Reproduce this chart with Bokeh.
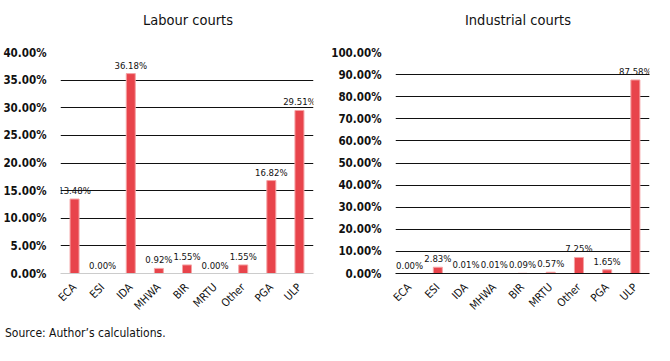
from math import pi
from bokeh.plotting import figure
from bokeh.models import ColumnDataSource, NumeralTickFormatter, FixedTicker, Div, LabelSet
from bokeh.core.properties import value
from bokeh.layouts import row, column
from bokeh.embed import file_html
from bokeh.resources import INLINE

categories = ["ECA", "ESI", "IDA", "MHWA", "BIR", "MRTU", "Other", "PGA", "ULP"]
labour_pct = [13.48, 0.00, 36.18, 0.92, 1.55, 0.00, 1.55, 16.82, 29.51]
industrial_pct = [0.00, 2.83, 0.01, 0.01, 0.09, 0.57, 7.25, 1.65, 87.58]
labour_ticks = [0, 5, 10, 15, 20, 25, 30, 35, 40]
industrial_ticks = [0, 10, 20, 30, 40, 50, 60, 70, 80, 90, 100]

FONT = "DejaVu Sans Condensed"
BAR = "#E8444B"


def make(vals, ticks, width, bl, br, axis_col):
    src = ColumnDataSource(dict(
        cat=categories,
        y=[v / 100 for v in vals],
        lab=["%.2f%%" % v for v in vals],
    ))
    p = figure(x_range=categories, y_range=(0, ticks[-1] / 100), width=width, height=290,
               output_backend="svg", toolbar_location=None,
               min_border_left=bl, min_border_right=br, min_border_top=22, min_border_bottom=10)
    p.x_range.range_padding = 0
    p.vbar(x="cat", top="y", width=0.32, source=src, fill_color=BAR,
           line_color="#F5A3A5", line_width=1)
    p.add_layout(LabelSet(x="cat", y="y", text="lab", source=src, text_align="center",
                          text_baseline="bottom", y_offset=3, text_font=value(FONT),
                          text_font_size=value("9.5px"), text_color=value("#111111")))
    p.outline_line_color = None
    p.xgrid.grid_line_color = None
    p.ygrid.grid_line_color = "#111111"
    p.ygrid.grid_line_width = 1
    p.yaxis.ticker = FixedTicker(ticks=[t / 100 for t in ticks])
    p.yaxis.formatter = NumeralTickFormatter(format="0.00%")
    p.yaxis.axis_line_color = None
    p.yaxis.major_tick_line_color = None
    p.yaxis.minor_tick_line_color = None
    p.yaxis.major_label_text_font = FONT
    p.yaxis.major_label_text_font_size = "11.5px"
    p.yaxis.major_label_text_font_style = "bold"
    p.yaxis.major_label_text_color = "#111111"
    p.yaxis.major_label_standoff = 8
    p.xaxis.axis_line_color = axis_col
    p.xaxis.major_tick_line_color = None
    p.xaxis.minor_tick_line_color = None
    p.xaxis.major_label_orientation = pi / 4
    p.xaxis.major_label_text_font = FONT
    p.xaxis.major_label_text_font_size = "11px"
    p.xaxis.major_label_text_color = "#111111"
    p.xaxis.major_label_standoff = 6
    p.background_fill_color = "white"
    return p


def title_div(text, pad_left):
    return Div(text=text, width=327, height=30, margin=(0, 0, 0, 0),
               styles={"font-family": FONT, "font-size": "14.5px", "color": "#111111",
                       "text-align": "center", "line-height": "26px",
                       "padding-left": "%dpx" % pad_left, "padding-top": "7px",
                       "box-sizing": "border-box", "width": "327px"})


p1 = make(labour_pct, labour_ticks, 327, 53, 14, "#cccccc")
p2 = make(industrial_pct, industrial_ticks, 327, 68, 5, "#111111")

t1 = title_div("Labour courts", 49)
t2 = title_div("Industrial courts", 55)

src = Div(text="Source: Author\u2019s calculations.", width=300, height=20,
          styles={"font-family": FONT, "font-size": "12px", "color": "#111111"})

layout = column(row(t1, t2, spacing=0), row(p1, p2, spacing=0), src, spacing=0)

html = file_html(layout, INLINE)
open("out.html", "w").write(html)
